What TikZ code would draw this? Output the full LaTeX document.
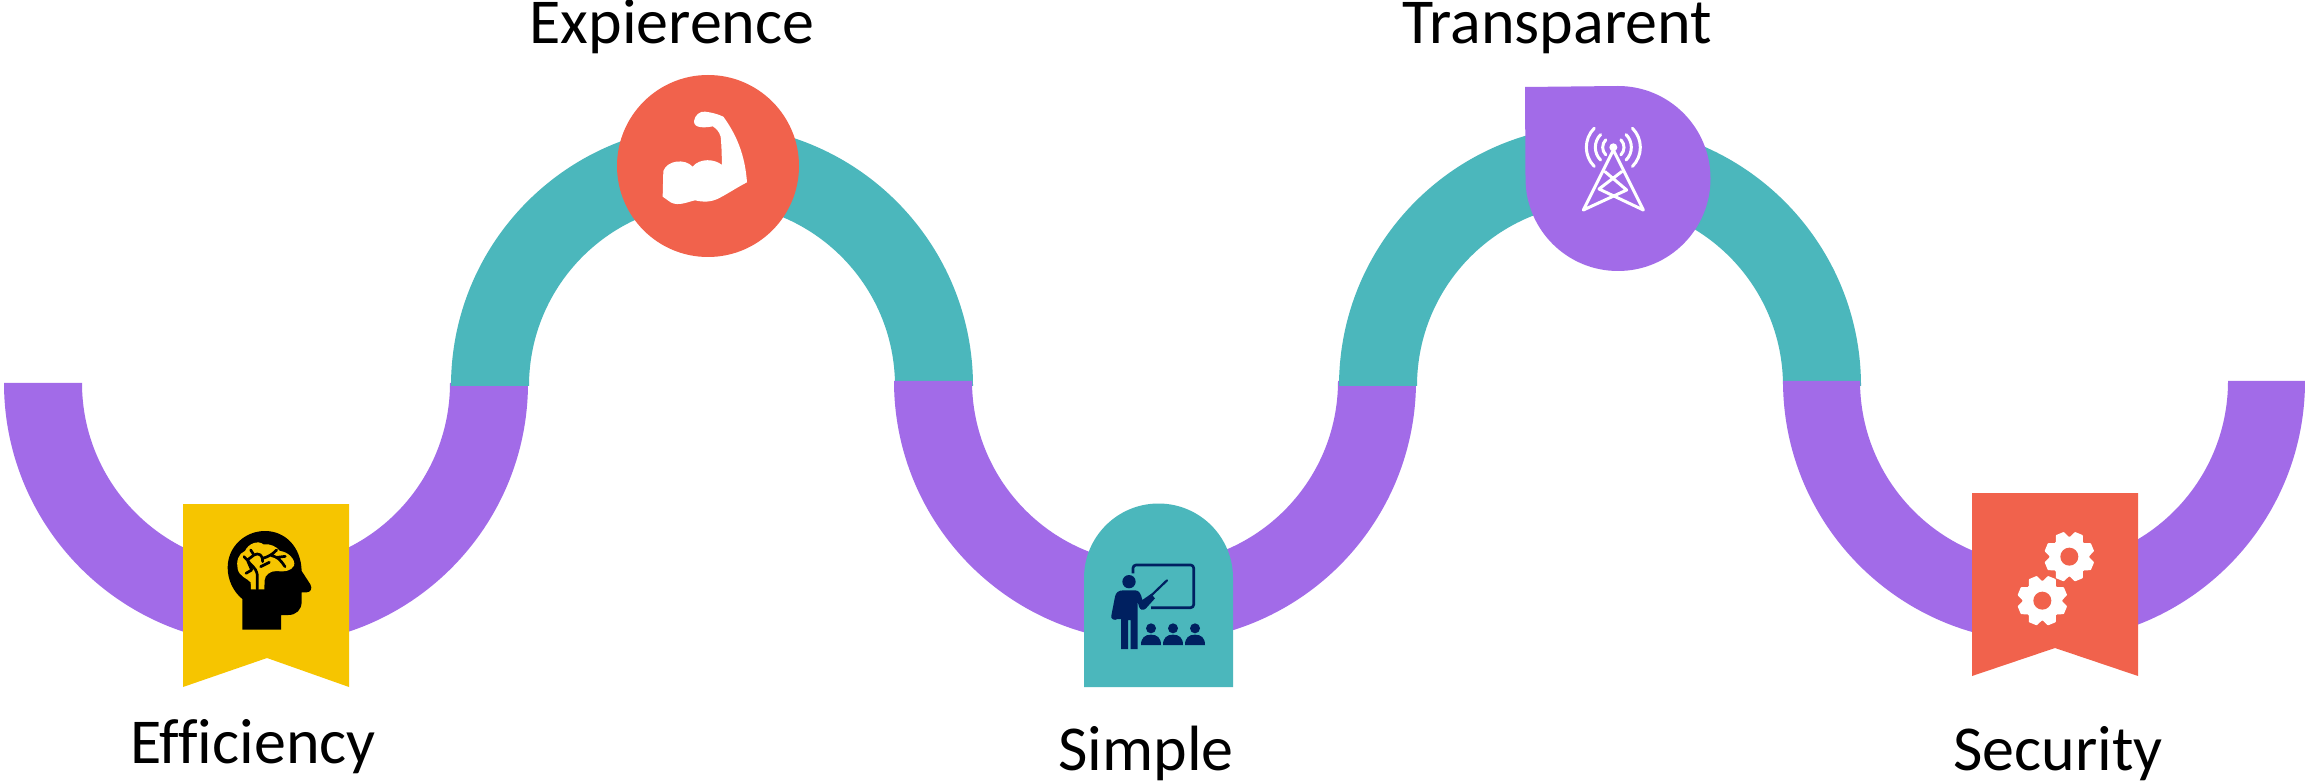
\documentclass[tikz,border=0pt]{standalone}
\usepackage{fontspec}
\setmainfont[Ligatures=CommonOff]{Carlito}
\definecolor{purp}{HTML}{A26BE8}
\definecolor{teal2}{HTML}{4BB7BC}
\definecolor{red2}{HTML}{F1624C}
\definecolor{yel}{HTML}{F6C500}
\definecolor{navy2}{HTML}{002060}
\tikzset{
  label text/.style={font=\fontsize{64}{72}\selectfont,text=black,inner sep=0pt,anchor=base},
  gear tooth/.style={fill=white,line join=round,draw=white,line width=2pt},
}
\newcommand{\gearIcon}[2]{%
  \begin{scope}[shift={(#1,#2)}]
    \fill[white] (0,0) circle[radius=60];
    \foreach \a in {0,45,...,315}{
      \fill[gear tooth,rotate=\a+22.5] (-11,-72) -- (11,-72) -- (19,-53) -- (-19,-53) -- cycle;
    }
    \fill[red2] (0,0) circle[radius=27];
  \end{scope}}
\begin{document}
\begin{tikzpicture}[x=1pt,y=-1pt]
\useasboundingbox (0,0) rectangle (2305,783);
\fill[white] (0,0) rectangle (2305,783);
% bands
\fill[purp] (4,383) arc[start angle=180,end angle=0,radius=262] -- (450,383) arc[start angle=0,end angle=180,radius=184] -- cycle;
\fill[teal2] (451,386) arc[start angle=-180,end angle=0,radius=261] -- (895,386) arc[start angle=0,end angle=-180,radius=183] -- cycle;
\fill[purp] (894,381) arc[start angle=180,end angle=0,radius=261] -- (1338,381) arc[start angle=0,end angle=180,radius=183] -- cycle;
\fill[teal2] (1339,386) arc[start angle=-180,end angle=0,radius=261] -- (1783,386) arc[start angle=0,end angle=-180,radius=183] -- cycle;
\fill[purp] (1783,381) arc[start angle=180,end angle=0,radius=261] -- (2228,381) arc[start angle=0,end angle=180,radius=184] -- cycle;
% --- Efficiency badge
\fill[yel] (183,504) -- (349,504) -- (349,687) -- (267,658) -- (183,687) -- cycle;
\begin{scope}[shift={(170,495)},scale=1/3]
  \fill[black] (217,404) -- (217,312) .. controls (190,290) and (173,255) .. (173,218)
    .. controls (173,155) and (225,108) .. (285,108)
    .. controls (345,108) and (393,155) .. (395,228)
    -- (421,268) .. controls (428,280) and (422,292) .. (410,292) -- (395,292) -- (395,320)
    .. controls (395,345) and (378,360) .. (355,360) -- (333,360) -- (333,404) -- cycle;
  \fill[yel] (243,283) -- (242,262) .. controls (232,250) and (208,245) .. (203,222)
    .. controls (198,200) and (205,175) .. (225,168)
    .. controls (235,145) and (265,135) .. (280,148)
    .. controls (300,145) and (320,155) .. (330,168)
    .. controls (355,170) and (378,195) .. (372,212)
    .. controls (365,228) and (340,232) .. (320,228)
    .. controls (300,228) and (285,240) .. (284,255) -- (283,283) -- cycle;
  \draw[black,line width=2.7pt,line cap=round,line join=round]
    (262,283) -- (262,240) .. controls (258,215) and (240,210) .. (232,195)
    (222,185) -- (232,195) -- (252,180) .. controls (265,172) and (280,180) .. (278,200)
    (242,165) -- (252,180)
    (272,215) -- (298,202)
    (278,190) .. controls (295,185) and (305,180) .. (320,165)
    (305,182) .. controls (320,185) and (330,192) .. (345,215)
    (322,187) -- (346,184)
    (245,225) -- (228,235)
    (232,195) -- (245,225);
\end{scope}
% --- Expierence badge
\fill[red2] (708,166) circle[radius=91];
\begin{scope}[shift={(610,65)},scale=1/3]
  \fill[white] (160,318) .. controls (172,285) and (225,280) .. (248,305)
    .. controls (270,278) and (315,282) .. (336,300)
    .. controls (335,270) and (335,245) .. (332,215)
    .. controls (328,200) and (318,190) .. (308,184)
    .. controls (290,188) and (250,192) .. (252,168)
    .. controls (255,150) and (270,138) .. (285,140)
    .. controls (305,142) and (325,148) .. (340,155)
    .. controls (380,210) and (405,270) .. (411,352)
    .. controls (385,365) and (355,385) .. (330,398)
    .. controls (305,412) and (280,412) .. (255,406)
    .. controls (235,410) and (205,425) .. (182,412)
    -- (158,395) -- cycle;
\end{scope}
% --- Simple badge
\fill[teal2] (1084,687) -- (1084,578) arc[start angle=-180,end angle=0,radius=74.5] -- (1233,687) -- cycle;
\begin{scope}[shift={(1075,495)},scale=1/3]
  \draw[navy2,line width=2.7pt,line join=round,rounded corners=3pt]
    (174,235) -- (174,210) -- (356,210) -- (356,338) -- (228,338);
  \draw[navy2,line width=2.2pt,line cap=round] (225,305) -- (276,256);
  \fill[navy2] (162,260) circle[radius=20];
  \fill[navy2] (138,462) -- (138,372) -- (128,372) .. controls (118,378) and (106,372) .. (109,362)
    -- (120,305) .. controls (122,292) and (132,286) .. (145,286)
    -- (180,286) .. controls (192,286) and (198,295) .. (202,315)
    -- (228,297) -- (240,310) -- (213,340) .. controls (205,348) and (195,345) .. (192,335)
    -- (188,320) -- (188,462) -- (167,462) -- (167,375) -- (159,375) -- (159,462) -- cycle;
  \foreach \c in {228,294,360}{
    \fill[navy2] (\c,400) circle[radius=15];
    \fill[navy2] (\c-30,450) .. controls (\c-30,428) and (\c-18,419) .. (\c,419)
      .. controls (\c+18,419) and (\c+30,428) .. (\c+30,450) -- cycle;
  }
\end{scope}
% --- Transparent badge
\fill[purp] (1525,87) -- (1618,86) arc[start angle=-90,end angle=90,radius=92.5] arc[start angle=90,end angle=180,radius=92.5] -- cycle;
\begin{scope}[shift={(1515,75)},scale=1/3]
  \fill[white] (295,217) circle[radius=12];
  \draw[white,line width=3pt,line cap=round,line join=round]
    (295,225) -- (205,405) -- (335,345) -- (270,290)
    (295,225) -- (385,405) -- (252,342) -- (320,290);
  \foreach \r in {32,54,81}{
    \draw[white,line width=3pt,line cap=round]
      ({295-\r*cos(45)},{217-\r*sin(45)}) arc[start angle=225,end angle=135,radius=\r];
    \draw[white,line width=3pt,line cap=round]
      ({295+\r*cos(45)},{217-\r*sin(45)}) arc[start angle=-45,end angle=45,radius=\r];
  }
\end{scope}
% --- Security badge
\fill[red2] (1972,493) -- (2138,493) -- (2138,676) -- (2055,648) -- (1972,676) -- cycle;
\begin{scope}[shift={(1960,485)},scale=1/3]
  \gearIcon{328}{215}
  \gearIcon{247}{347}
\end{scope}
% --- labels
\node[label text] (efficiency) at (253,763) {Efficiency};
\node[label text] (expierence) at (672,44) {Expierence};
\node[label text] (simple) at (1146,770) {Simple};
\node[label text] (transparent) at (1557,44) {Transparent};
\node[label text] (security) at (2058,770) {Security};
\end{tikzpicture}
\end{document}
